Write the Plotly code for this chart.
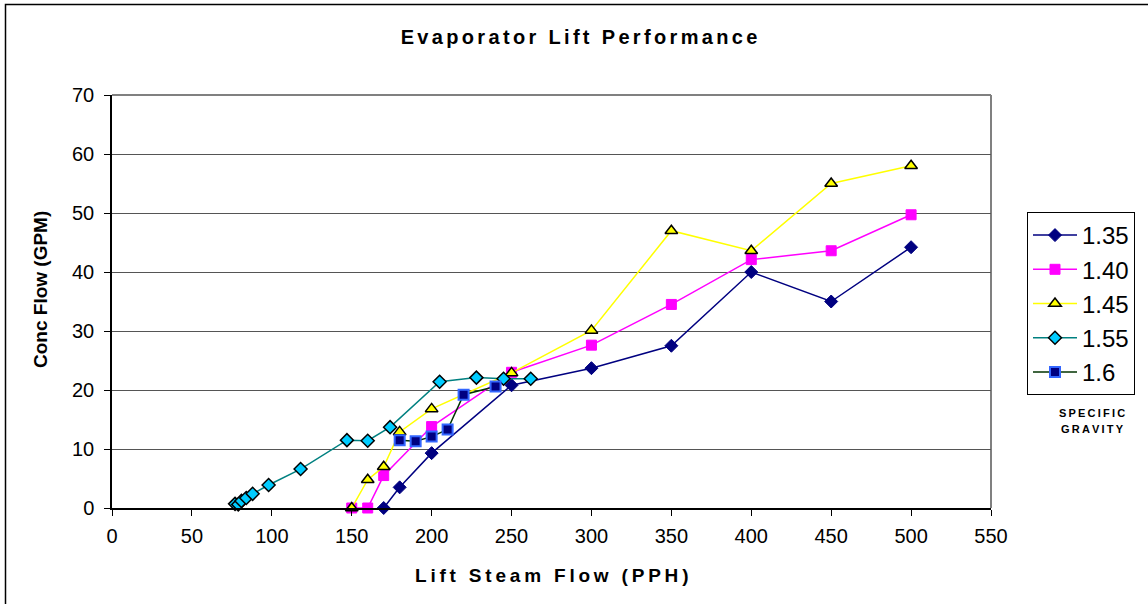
import plotly.graph_objects as go

# ---------------- data ----------------
series_names = ["1.35", "1.40", "1.45", "1.55", "1.6"]

x_135 = [170, 180, 200, 250, 300, 350, 400, 450, 500]
y_135 = [0, 3.5, 9.3, 20.8, 23.7, 27.5, 40, 35, 44.2]

x_140 = [150, 160, 170, 200, 250, 300, 350, 400, 450, 500]
y_140 = [0, 0, 5.5, 13.8, 23, 27.6, 34.5, 42.1, 43.6, 49.7]

x_145 = [150, 160, 170, 180, 200, 250, 300, 350, 400, 450, 500]
y_145 = [0, 4.8, 7, 12.9, 16.8, 22.9, 30.1, 47, 43.6, 55, 58]

x_155 = [77, 79, 81, 84, 88, 98, 118, 147, 160, 174, 205, 228, 245, 262]
y_155 = [0.7, 0.6, 1.2, 1.7, 2.4, 3.9, 6.6, 11.5, 11.4, 13.7, 21.4, 22.1, 21.9, 21.9]

x_16 = [180, 190, 200, 210, 220, 240]
y_16 = [11.5, 11.3, 12.1, 13.3, 19.2, 20.6]

x_ticks = list(range(0, 551, 50))
y_ticks = list(range(0, 71, 10))

title_text = "Evaporator Lift Performance"
x_title = "Lift Steam Flow (PPH)"
y_title = "Conc Flow (GPM)"
legend_note = ["SPECIFIC", "GRAVITY"]

# ---------------- layout helpers ----------------
W, H = 1148, 604
L, R, T, B = 112, 991, 95, 508


def px(xp):
    return (xp - L) / (R - L)


def py(yp):
    return (B - yp) / (B - T)


def spaced(s, ch):
    return ch.join(list(s))


FONT = "Arial, Liberation Sans, sans-serif"

styles = [
    dict(line=dict(color="#000080", width=1.5),
         marker=dict(symbol="diamond", size=10, color="#000080",
                     line=dict(color="#000080", width=1))),
    dict(line=dict(color="#FF00FF", width=1.5),
         marker=dict(symbol="square", size=10, color="#FF00FF",
                     line=dict(color="#FF00FF", width=1))),
    dict(line=dict(color="#FFFF00", width=1.5),
         marker=dict(symbol="triangle-up", size=11, color="#FFFF00",
                     line=dict(color="#000000", width=1.5))),
    dict(line=dict(color="#008080", width=1.5),
         marker=dict(symbol="diamond", size=10, color="#00CCFF",
                     line=dict(color="#000000", width=1.5))),
    dict(line=dict(color="#003300", width=1.5),
         marker=dict(symbol="square", size=10, color="#000080",
                     line=dict(color="#3366FF", width=2))),
]

xs = [x_135, x_140, x_145, x_155, x_16]
ys = [y_135, y_140, y_145, y_155, y_16]

fig = go.Figure()
for name, xv, yv, st in zip(series_names, xs, ys, styles):
    fig.add_trace(go.Scatter(x=xv, y=yv, name=name, mode="lines+markers",
                             line=st["line"], marker=st["marker"],
                             cliponaxis=False, legendgroup=name))

shapes = [
    # chart area border
    dict(type="rect", xref="paper", yref="paper",
         x0=px(5.5), x1=px(1170), y0=py(4.5), y1=py(640),
         line=dict(color="#000000", width=1.5), layer="below"),
    # plot frame top and right
    dict(type="line", xref="paper", yref="paper", x0=0, x1=1, y0=1, y1=1,
         line=dict(color="#808080", width=2), layer="below"),
    dict(type="line", xref="paper", yref="paper", x0=1, x1=1, y0=0, y1=1,
         line=dict(color="#808080", width=2), layer="below"),
]

annotations = [
    dict(text="<b>" + spaced(x_title, "\u2009") + "</b>", xref="paper", yref="paper",
         x=px(551), y=py(575), xanchor="center", yanchor="middle", showarrow=False,
         font=dict(family=FONT, size=19, color="#000000")),
    dict(text="<b>" + y_title + "</b>", xref="paper", yref="paper",
         x=px(40), y=py(290), xanchor="center", yanchor="middle", showarrow=False,
         textangle=-90, font=dict(family=FONT, size=19, color="#000000")),
    dict(text="<b>" + spaced(legend_note[0], "\u2009") + "</b>", xref="paper", yref="paper",
         x=px(1092), y=py(413), xanchor="center", yanchor="middle", showarrow=False,
         font=dict(family=FONT, size=11, color="#000000")),
    dict(text="<b>" + spaced(legend_note[1], "\u2009") + "</b>", xref="paper", yref="paper",
         x=px(1092), y=py(429), xanchor="center", yanchor="middle", showarrow=False,
         font=dict(family=FONT, size=11, color="#000000")),
]

fig.update_layout(
    width=W, height=H,
    margin=dict(l=L, r=W - R, t=T, b=H - B, autoexpand=False),
    paper_bgcolor="white", plot_bgcolor="white",
    title=dict(text="<b>" + spaced(title_text, "\u2006") + "</b>",
               x=579 / W, xanchor="center", y=1 - 37 / H, yanchor="middle",
               font=dict(family=FONT, size=20, color="#000000")),
    xaxis=dict(range=[0, 550], tickvals=x_ticks, ticktext=[str(v) for v in x_ticks],
               showgrid=False, zeroline=False, showline=True, linecolor="#000000",
               linewidth=1.5, ticks="outside", ticklen=6, tickcolor="#000000",
               tickfont=dict(family=FONT, size=20, color="#000000"),
               ticklabelstandoff=3),
    yaxis=dict(range=[0, 70], tickvals=y_ticks, ticktext=[str(v) for v in y_ticks],
               showgrid=True, gridcolor="#555555", gridwidth=1,
               zeroline=False, showline=True, linecolor="#000000", linewidth=1.5,
               ticks="outside", ticklen=6, tickcolor="#000000",
               tickfont=dict(family=FONT, size=20, color="#000000"),
               ticklabelstandoff=6),
    legend=dict(x=px(1027), y=py(212), xanchor="left", yanchor="top",
                bordercolor="#000000", borderwidth=1, bgcolor="white",
                font=dict(family=FONT, size=24, color="#000000"),
                itemwidth=44, tracegroupgap=0),
    shapes=shapes,
    annotations=annotations,
)

fig.write_html("out.html", config={"displayModeBar": False},
               post_script="document.body.style.margin='0px';document.body.style.padding='0px';")
